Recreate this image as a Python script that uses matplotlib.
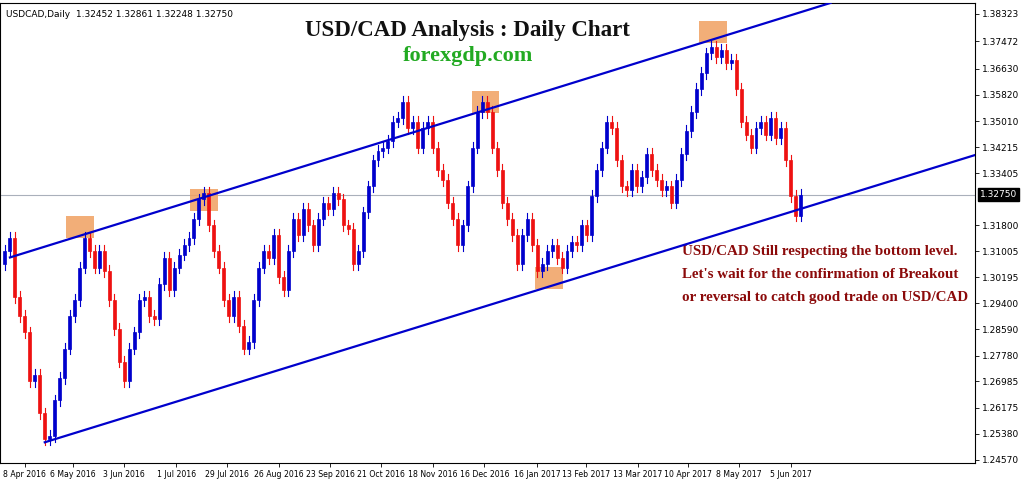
import matplotlib
matplotlib.use("Agg")
import matplotlib.pyplot as plt
from matplotlib.patches import Rectangle

closes = [1.3100,1.3140,1.2960,1.2900,1.2850,1.2700,1.2720,1.2600,1.2520,1.2530,
1.2640,1.2710,1.2800,1.2900,1.2950,1.3050,1.3140,1.3100,1.3050,1.3100,
1.3040,1.2950,1.2860,1.2760,1.2700,1.2800,1.2850,1.2950,1.2960,1.2900,
1.2890,1.3000,1.3080,1.2980,1.3050,1.3090,1.3120,1.3140,1.3200,1.3260,
1.3280,1.3180,1.3100,1.3050,1.2950,1.2900,1.2960,1.2870,1.2800,1.2820,
1.2950,1.3050,1.3100,1.3080,1.3150,1.3020,1.2980,1.3100,1.3200,1.3150,
1.3230,1.3180,1.3120,1.3200,1.3250,1.3230,1.3280,1.3260,1.3180,1.3170,
1.3060,1.3100,1.3220,1.3300,1.3380,1.3410,1.3420,1.3440,1.3500,1.3510,
1.3560,1.3480,1.3500,1.3420,1.3480,1.3500,1.3420,1.3350,1.3320,1.3250,
1.3200,1.3120,1.3180,1.3300,1.3420,1.3530,1.3560,1.3530,1.3420,1.3350,
1.3250,1.3200,1.3150,1.3060,1.3150,1.3200,1.3120,1.3040,1.3060,1.3100,
1.3120,1.3080,1.3050,1.3100,1.3130,1.3120,1.3180,1.3150,1.3270,1.3350,
1.3420,1.3500,1.3480,1.3380,1.3300,1.3290,1.3350,1.3300,1.3330,1.3400,
1.3350,1.3320,1.3290,1.3300,1.3250,1.3320,1.3400,1.3470,1.3530,1.3600,
1.3650,1.3710,1.3730,1.3700,1.3720,1.3680,1.3690,1.3600,1.3500,1.3460,
1.3420,1.3480,1.3500,1.3460,1.3510,1.3450,1.3480,1.3380,1.3270,1.3210,1.3275]
first_open = 1.3060
wick = 0.0018

date_labels = ["8 Apr 2016","6 May 2016","3 Jun 2016","1 Jul 2016","29 Jul 2016","26 Aug 2016",
"23 Sep 2016","21 Oct 2016","18 Nov 2016","16 Dec 2016","16 Jan 2017","13 Feb 2017",
"13 Mar 2017","10 Apr 2017","8 May 2017","5 Jun 2017"]
date_pos = [4,13.6,24,34.4,44.6,55,65.4,75.6,86,96.4,107,116.8,127.2,137.4,147.6,158]
price_ticks = [1.38323,1.37472,1.36630,1.35820,1.35010,1.34215,1.33405,1.31800,1.31005,
1.30195,1.29400,1.28590,1.27780,1.26985,1.26175,1.25380,1.24570]
last_price = 1.32750

upper_x = [1, 166]; upper_y = [1.3081, 1.3866]
lower_x = [8, 205]; lower_y = [1.2511, 1.3444]
box_x = [15, 40, 96.6, 109.4, 142.4]
box_y = [1.3176, 1.3259, 1.3561, 1.3019, 1.3777]

fig = plt.figure(figsize=(10.24, 4.82), dpi=100)
ax = fig.add_axes([0.0, 0.04, 0.952, 0.954])
ax.set_xlim(-1, 195)
ax.set_ylim(1.2448, 1.3866)

opens = [first_open] + closes[:-1]
for i, (o, c) in enumerate(zip(opens, closes)):
    col = "#0000cc" if c >= o else "#ee1111"
    ax.plot([i, i], [min(o, c) - wick, max(o, c) + wick], color=col, lw=0.8, zorder=3)
    ax.add_patch(Rectangle((i - 0.3, min(o, c)), 0.6, max(abs(c - o), 0.0003),
                           facecolor=col, edgecolor=col, lw=0.5, zorder=3))

for bx, by in zip(box_x, box_y):
    ax.add_patch(Rectangle((bx - 2.8, by - 0.0034), 5.6, 0.0068, facecolor="#f0a060",
                           edgecolor="none", alpha=0.85, zorder=2))

ax.plot(upper_x, upper_y, color="#0000cc", lw=1.6, zorder=4)
ax.plot(lower_x, lower_y, color="#0000cc", lw=1.6, zorder=4)
ax.axhline(last_price, color="#aab0bb", lw=0.8, zorder=1)

ax.yaxis.tick_right()
ax.set_yticks(price_ticks)
ax.set_yticklabels([f"{p:.5f}" for p in price_ticks], fontsize=6.5)
ax.text(1.005, last_price, f"{last_price:.5f}", transform=ax.get_yaxis_transform(),
        fontsize=6.5, color="white", va="center", ha="left",
        bbox=dict(facecolor="black", edgecolor="black", pad=1.5))
ax.set_xticks(date_pos)
ax.set_xticklabels(date_labels, fontsize=5.6)
ax.tick_params(length=3, width=0.6, pad=2)
for s in ax.spines.values():
    s.set_linewidth(0.8)

ax.text(0.006, 0.985, "USDCAD,Daily  1.32452 1.32861 1.32248 1.32750", transform=ax.transAxes,
        fontsize=6.5, va="top", ha="left")
ax.text(0.48, 0.94, "USD/CAD Analysis : Daily Chart", transform=ax.transAxes,
        fontsize=16.5, fontweight="bold", family="Liberation Serif", ha="center", va="center", color="#111111")
ax.text(0.48, 0.885, "forexgdp.com", transform=ax.transAxes,
        fontsize=16, fontweight="bold", family="Liberation Serif", ha="center", va="center", color="#22aa22")
for k, t in enumerate(["USD/CAD Still respecting the bottom level.",
                       "Let's wait for the confirmation of Breakout",
                       "or reversal to catch good trade on USD/CAD"]):
    ax.text(0.70, 0.46 - k * 0.05, t, transform=ax.transAxes, fontsize=10.8, fontweight="bold",
            family="Liberation Serif", color="#8b0a0a", ha="left", va="center")

fig.savefig("out.png", dpi=100)
